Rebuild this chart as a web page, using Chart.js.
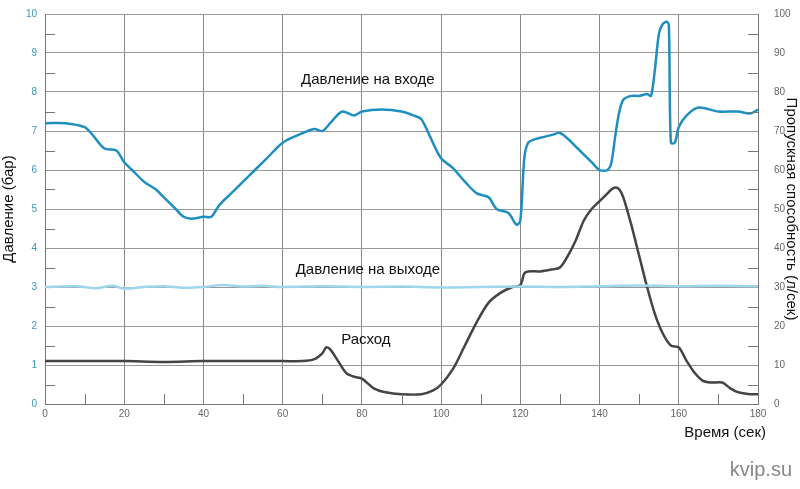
<!DOCTYPE html><html><head><meta charset="utf-8"><script src="https://cdn.jsdelivr.net/npm/chart.js"></script>
<style>body{margin:0;background:#fff}#w{width:800px;height:489px}</style></head><body><div id="w"><canvas id="c"></canvas></div><script>
const inletT=[0,5,10,12,15,18,20,22,25,28,30,33,35,37,40,42,44,47,50,53,56,60,64,68,70,72,75,78,80,85,90,93,95,97,100,103,106,109,112,114,117,119,120,121,122,124,126,128,130,132,134,136,138,140,142,143,144,145,146,148,150,152,153,154,155,156,157,157.5,158,159,160,162,165,170,175,178,180];
const inletV=[7.2,7.2,7.1,6.9,6.55,6.5,6.2,6.0,5.7,5.5,5.3,5.0,4.8,4.75,4.8,4.8,5.1,5.4,5.7,6.0,6.3,6.7,6.9,7.05,7.0,7.2,7.5,7.4,7.5,7.55,7.5,7.4,7.3,6.9,6.3,6.05,5.7,5.4,5.3,5.0,4.9,4.6,4.7,6.3,6.7,6.8,6.85,6.9,6.95,6.8,6.6,6.4,6.2,6.0,6.0,6.2,6.9,7.5,7.8,7.9,7.9,7.95,7.9,8.6,9.5,9.75,9.8,9.7,6.7,6.7,7.1,7.4,7.6,7.5,7.5,7.45,7.55];
const outletT=[0,8,13,17,20,25,30,35,40,45,50,55,60,70,80,90,100,110,120,130,140,150,160,170,180];
const outletV=[3.0,3.02,2.97,3.03,2.96,3.0,3.02,2.98,3.0,3.05,3.01,3.03,3.0,3.02,3.0,3.01,2.99,3.0,3.01,3.0,3.02,3.04,3.02,3.03,3.02];
const flowT=[0,10,20,30,40,50,60,65,68,70,71,72,74,76,78,80,83,86,90,95,98,100,103,106,109,112,115,118,120,121,122,125,128,130,132,134,136,138,140,142,143,144,145,146,148,150,152,154,156,158,160,162,164,166,168,171,173,175,178,180];
const flowV=[1.1,1.1,1.1,1.08,1.1,1.1,1.1,1.1,1.15,1.3,1.45,1.4,1.1,0.8,0.7,0.65,0.4,0.3,0.25,0.25,0.35,0.5,0.9,1.5,2.1,2.6,2.85,3.0,3.05,3.35,3.4,3.4,3.45,3.5,3.8,4.2,4.7,5.0,5.2,5.4,5.5,5.55,5.5,5.3,4.6,3.8,3.0,2.3,1.8,1.5,1.45,1.1,0.8,0.6,0.55,0.55,0.4,0.3,0.25,0.25];
const xTicks=[0,20,40,60,80,100,120,140,160,180];
const leftTicks=[0,1,2,3,4,5,6,7,8,9,10];
const rightTicks=[0,10,20,30,40,50,60,70,80,90,100];
const pts=(t,v)=>t.map((x,i)=>({x,y:v[i]}));
const labels=[{t:'Давление на входе',x:81.5,y:8.3},{t:'Давление на выходе',x:81.5,y:3.45},{t:'Расход',x:81,y:1.65}];
const deco={id:'deco',afterDraw(ch){const c=ch.ctx,x=ch.scales.x,y=ch.scales.y,a=ch.chartArea;c.save();
c.strokeStyle='#777';c.lineWidth=1;
for(let v=10;v<180;v+=20){const px=Math.round(x.getPixelForValue(v))+.5;c.beginPath();c.moveTo(px,a.bottom);c.lineTo(px,a.bottom-10);c.stroke();}
for(let v=0.5;v<10;v+=1){const py=Math.round(y.getPixelForValue(v))+.5;c.beginPath();c.moveTo(a.left,py);c.lineTo(a.left+10,py);c.stroke();c.beginPath();c.moveTo(a.right,py);c.lineTo(a.right-10,py);c.stroke();}
c.fillStyle='#111';c.font='15px "Liberation Sans", Arial';c.textAlign='center';c.textBaseline='middle';
labels.forEach(l=>c.fillText(l.t,x.getPixelForValue(l.x),y.getPixelForValue(l.y)));
c.textAlign='right';c.fillText('Время (сек)',766,433);
c.font='20px "Liberation Sans", Arial';c.fillStyle='#888';c.fillText('kvip.su',792,470);
c.restore();}};
new Chart(document.getElementById('c'),{type:'line',data:{datasets:[
{data:pts(inletT,inletV),borderColor:'#1f8fbf',borderWidth:2.5,yAxisID:'y'},
{data:pts(outletT,outletV),borderColor:'#9fd6ec',borderWidth:2.5,yAxisID:'y'},
{data:pts(flowT,flowV.map(v=>v*10)),borderColor:'#444',borderWidth:2.5,yAxisID:'y2'}]},
options:{responsive:true,maintainAspectRatio:false,animation:false,events:[],layout:{padding:{top:10,right:0,bottom:65,left:0}},
elements:{point:{radius:0},line:{tension:0.3}},plugins:{legend:{display:false},tooltip:{enabled:false}},
scales:{x:{type:'linear',min:0,max:180,afterBuildTicks:s=>{s.ticks=xTicks.map(v=>({value:v}))},grid:{color:'#888',drawTicks:false},border:{color:'#777'},ticks:{color:'#666',font:{size:10},padding:4}},
y:{position:'left',min:0,max:10,afterBuildTicks:s=>{s.ticks=leftTicks.map(v=>({value:v}))},afterFit:s=>{s.width=45},grid:{color:'#999',drawTicks:false},border:{color:'#777'},ticks:{color:'#3a95b8',font:{size:10},padding:8},title:{display:true,text:'Давление (бар)',color:'#111',font:{size:15,family:'"Liberation Sans", Arial'},padding:0}},
y2:{position:'right',min:0,max:100,afterBuildTicks:s=>{s.ticks=rightTicks.map(v=>({value:v}))},afterFit:s=>{s.width=42},grid:{display:false},border:{color:'#777'},ticks:{color:'#666',font:{size:10},padding:8},title:{display:true,text:'Пропускная способность (л/сек)',color:'#111',font:{size:15,family:'"Liberation Sans", Arial'},padding:0}}}},plugins:[deco]});
</script></body></html>
